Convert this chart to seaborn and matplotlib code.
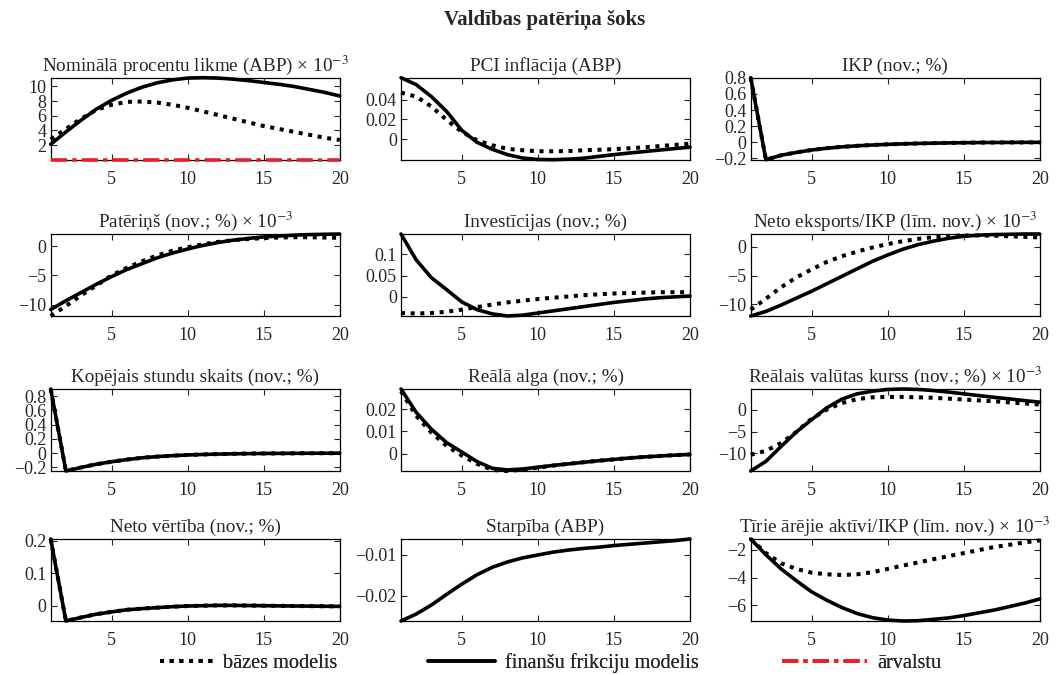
import numpy as np
import pandas as pd
import matplotlib
matplotlib.use("Agg")
import matplotlib.pyplot as plt
from matplotlib.ticker import FuncFormatter
from matplotlib.lines import Line2D
from matplotlib.font_manager import FontProperties
import seaborn as sns

# ---- horizon (quarters) ----
periods = list(range(1, 21))

# ---- impulse responses: baseline model (bazes) / financial frictions model (finansu) ----
rate_base = [2.8, 4.2, 5.6, 6.8, 7.5, 7.9, 7.95, 7.8, 7.5, 7.1, 6.6, 6.1, 5.6, 5.1, 4.6, 4.2, 3.8, 3.4, 3.0, 2.7]
rate_fin = [2.1, 3.8, 5.4, 6.9, 8.1, 9.1, 9.9, 10.5, 10.9, 11.15, 11.2, 11.15, 11.0, 10.8, 10.55, 10.3, 10.0, 9.6, 9.2, 8.7]
rate_foreign = [0.0] * 20

infl_base = [0.047, 0.043, 0.033, 0.0195, 0.0075, -0.001, -0.006, -0.0096, -0.011, -0.012, -0.012, -0.0118,
             -0.011, -0.0105, -0.0099, -0.009, -0.008, -0.0068, -0.0056, -0.0044]
infl_fin = [0.062, 0.055, 0.043, 0.028, 0.009, -0.003, -0.010, -0.0154, -0.0188, -0.0203, -0.0205, -0.020,
            -0.019, -0.0172, -0.0154, -0.0138, -0.0123, -0.0108, -0.0093, -0.0079]

gdp_base = [0.8, -0.215, -0.16, -0.125, -0.095, -0.073, -0.056, -0.043, -0.033, -0.025, -0.019, -0.014,
            -0.010, -0.007, -0.005, -0.003, -0.002, -0.001, -0.0005, 0.0]
gdp_fin = list(gdp_base)

cons_base = [-11.9, -10.2, -8.4, -6.7, -5.0, -3.7, -2.6, -1.6, -0.8, -0.2, 0.3, 0.7, 1.0, 1.2, 1.35, 1.45, 1.5, 1.5, 1.45, 1.4]
cons_fin = [-10.8, -9.3, -7.9, -6.5, -5.2, -4.0, -3.0, -2.0, -1.2, -0.5, 0.1, 0.6, 1.0, 1.3, 1.55, 1.7, 1.85, 1.95, 2.0, 2.05]

inv_base = [-0.038, -0.039, -0.038, -0.035, -0.030, -0.024, -0.018, -0.013, -0.009, -0.005, -0.002, 0.001,
            0.004, 0.006, 0.008, 0.009, 0.010, 0.011, 0.011, 0.011]
inv_fin = [0.148, 0.087, 0.045, 0.017, -0.012, -0.030, -0.040, -0.045, -0.043, -0.038, -0.033, -0.028,
           -0.023, -0.018, -0.013, -0.009, -0.005, -0.002, 0.0, 0.002]

nx_base = [-10.9, -9.0, -7.0, -5.3, -3.9, -2.6, -1.6, -0.8, -0.1, 0.5, 1.0, 1.4, 1.7, 1.9, 2.0, 2.0, 1.95, 1.85, 1.75, 1.65]
nx_fin = [-12.0, -11.2, -10.1, -8.9, -7.7, -6.4, -5.1, -3.8, -2.5, -1.4, -0.4, 0.4, 1.0, 1.5, 1.85, 2.05, 2.15, 2.2, 2.25, 2.25]

hours_base = [0.9, -0.25, -0.2, -0.155, -0.12, -0.09, -0.065, -0.048, -0.035, -0.025, -0.018, -0.013,
              -0.009, -0.006, -0.004, -0.003, -0.002, -0.001, -0.0005, 0.0]
hours_fin = list(hours_base)

wage_base = [0.028, 0.017, 0.0095, 0.0035, -0.0008, -0.0045, -0.0072, -0.0077, -0.0071, -0.0062, -0.0053, -0.0045,
             -0.0038, -0.0031, -0.0025, -0.0019, -0.0014, -0.001, -0.0006, -0.0003]
wage_fin = [0.029, 0.0185, 0.011, 0.005, 0.0008, -0.0035, -0.0065, -0.0072, -0.0068, -0.006, -0.0052, -0.0045,
            -0.0038, -0.0031, -0.0025, -0.0019, -0.0014, -0.001, -0.0006, -0.0003]

rer_base = [-10.3, -9.4, -7.6, -5.1, -2.1, 0.0, 1.5, 2.4, 2.8, 2.9, 2.9, 2.8, 2.7, 2.5, 2.3, 2.1, 1.9, 1.65, 1.4, 1.15]
rer_fin = [-14.0, -11.8, -8.4, -5.1, -2.3, 0.4, 2.4, 3.6, 4.2, 4.6, 4.7, 4.6, 4.35, 4.0, 3.6, 3.2, 2.8, 2.45, 2.05, 1.7]

nw_base = [0.205, -0.047, -0.036, -0.026, -0.019, -0.0125, -0.009, -0.006, -0.003, -0.001, 0.0, 0.001,
           0.001, 0.0005, 0.0, -0.0005, -0.001, -0.0013, -0.0017, -0.002]
nw_fin = list(nw_base)

spread_fin = [-0.0262, -0.0245, -0.0223, -0.0197, -0.0172, -0.0149, -0.0131, -0.0118, -0.0108, -0.0101,
              -0.0094, -0.0089, -0.0085, -0.0082, -0.0078, -0.0075, -0.0072, -0.0069, -0.0066, -0.0062]

nfa_base = [-1.22, -2.24, -2.97, -3.38, -3.65, -3.77, -3.82, -3.77, -3.62, -3.38, -3.14, -2.92, -2.68, -2.46,
            -2.24, -2.02, -1.8, -1.64, -1.47, -1.32]
nfa_fin = [-1.22, -2.36, -3.38, -4.23, -5.03, -5.64, -6.17, -6.6, -6.9, -7.07, -7.14, -7.12, -7.02, -6.92,
           -6.75, -6.55, -6.35, -6.1, -5.85, -5.55]

# ---- panel titles and y ticks ----
titles = [
    "Nominālā procentu likme (ABP) × 10$^{-3}$",
    "PCI inflācija (ABP)",
    "IKP (nov.; %)",
    "Patēriņš (nov.; %) × 10$^{-3}$",
    "Investīcijas (nov.; %)",
    "Neto eksports/IKP (līm. nov.) × 10$^{-3}$",
    "Kopējais stundu skaits (nov.; %)",
    "Reālā alga (nov.; %)",
    "Reālais valūtas kurss (nov.; %) × 10$^{-3}$",
    "Neto vērtība (nov.; %)",
    "Starpība (ABP)",
    "Tīrie ārējie aktīvi/IKP (līm. nov.) × 10$^{-3}$",
]
yticks = [
    [2, 4, 6, 8, 10],
    [0, 0.02, 0.04],
    [-0.2, 0, 0.2, 0.4, 0.6, 0.8],
    [-10, -5, 0],
    [0, 0.05, 0.1],
    [-10, -5, 0],
    [-0.2, 0, 0.2, 0.4, 0.6, 0.8],
    [0, 0.01, 0.02],
    [-10, -5, 0],
    [0, 0.1, 0.2],
    [-0.02, -0.01],
    [-6, -4, -2],
]
series = [
    (rate_base, rate_fin, rate_foreign),
    (infl_base, infl_fin, None),
    (gdp_base, gdp_fin, None),
    (cons_base, cons_fin, None),
    (inv_base, inv_fin, None),
    (nx_base, nx_fin, None),
    (hours_base, hours_fin, None),
    (wage_base, wage_fin, None),
    (rer_base, rer_fin, None),
    (nw_base, nw_fin, None),
    (None, spread_fin, None),
    (nfa_base, nfa_fin, None),
]
xticks = [5, 10, 15, 20]

legend_labels = ["bāzes modelis", "finanšu frikciju modelis", "ārvalstu"]

# ---- style ----
sns.set_style("ticks")
SERIF = ["Liberation Serif", "DejaVu Serif"]
plt.rcParams["font.family"] = SERIF
plt.rcParams["mathtext.fontset"] = "stix"
plt.rcParams["axes.unicode_minus"] = True

FS_TICK = 13
FS_TITLE = 13.8
FS_SUP = 15
FS_LEG = 14.6
LW_DOT = 2.9
LW_SOLID = 2.6
LW_RED = 2.6
DOT = (0, (1.0, 1.4))
DASHDOT = (0, (4.5, 1.4, 1.2, 1.4))
RED = "#ee1c24"

W, H = 1063, 675
fig = plt.figure(figsize=(W / 100, H / 100), dpi=100)

col_left = [50.7, 401.0, 750.7]
row_top = [77.7, 234.0, 389.0, 539.0]
ax_w, ax_h = 289.0, 82.0


def fmt(v, pos):
    s = "%g" % v
    return s.replace("-", "\u2212")


for i in range(12):
    r, c = divmod(i, 3)
    ax = fig.add_axes([col_left[c] / W, 1 - (row_top[r] + ax_h) / H, ax_w / W, ax_h / H])
    base, fin, foreign = series[i]
    vals = []
    if base is not None:
        sns.lineplot(x=periods, y=base, ax=ax, color="black", linewidth=LW_DOT, linestyle=DOT,
                     estimator=None, sort=False, legend=False, clip_on=False)
        vals += base
    if fin is not None:
        sns.lineplot(x=periods, y=fin, ax=ax, color="black", linewidth=LW_SOLID, linestyle="-",
                     estimator=None, sort=False, legend=False, clip_on=False)
        vals += fin
    if foreign is not None:
        sns.lineplot(x=periods, y=foreign, ax=ax, color=RED, linewidth=LW_RED, linestyle=DASHDOT,
                     estimator=None, sort=False, legend=False, clip_on=False, zorder=5)
        vals += foreign
    ax.set_xlim(1, 20)
    ax.set_ylim(min(vals), max(vals))
    ax.set_xticks(xticks)
    ax.set_yticks(yticks[i])
    ax.yaxis.set_major_formatter(FuncFormatter(fmt))
    ax.tick_params(direction="in", top=True, right=True, length=4, width=0.8,
                   labelsize=FS_TICK, pad=3)
    ax.tick_params(axis="x", pad=8)
    for sp in ax.spines.values():
        sp.set_linewidth(0.9)
        sp.set_color("black")
    ax.set_xlabel("")
    ax.set_ylabel("")
    ax.set_title(titles[i], fontsize=FS_TITLE, pad=5)

fig.text(545 / W, 1 - 20 / H, "Valdības patēriņa šoks", ha="center", va="center",
         fontsize=FS_SUP, fontweight="bold")

# ---- legend: three separate entries along the bottom ----
handles = [
    Line2D([], [], color="black", linewidth=LW_DOT, linestyle=DOT),
    Line2D([], [], color="black", linewidth=LW_SOLID, linestyle="-"),
    Line2D([], [], color=RED, linewidth=LW_RED, linestyle=DASHDOT),
]
leg_x = [160, 428, 782]
leg_len = [2.6, 3.3, 4.2]
leg_font = FontProperties(family=SERIF, size=FS_LEG)
for h, lab, lx, hl in zip(handles, legend_labels, leg_x, leg_len):
    lg = fig.legend([h], [lab], loc="center left", bbox_to_anchor=(lx / W, 1 - 663 / H),
                    frameon=False, prop=leg_font, handlelength=hl, handletextpad=0.5,
                    borderpad=0, borderaxespad=0)
    fig.add_artist(lg)

fig.savefig("out.png", dpi=100)
